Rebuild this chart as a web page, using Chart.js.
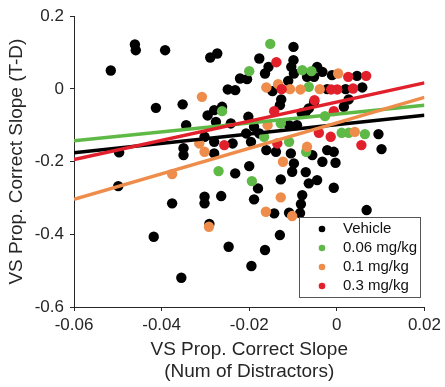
<!DOCTYPE html>
<html>
<head>
<meta charset="utf-8">
<script src="https://cdn.jsdelivr.net/npm/chart.js@4.4.1/dist/chart.umd.min.js"></script>
<style>
  body { margin: 0; background: #fff; }
  canvas { display: block; }
</style>
</head>
<body>
<canvas id="graph" width="445" height="387"></canvas>
<script>
// tick values
const xTicks = [-0.06, -0.04, -0.02, 0, 0.02];
const yTicks = [-0.6, -0.4, -0.2, 0, 0.2];

const groups = ['Vehicle', '0.06 mg/kg', '0.1 mg/kg', '0.3 mg/kg'];
const colors = ['#000000', '#5FB946', '#EE8D4B', '#E1202B'];

// [x, y] per animal
const vehicle = [
  [-0.0516, 0.0507], [-0.0461, 0.1222], [-0.0459, 0.1065], [-0.0392, 0.1065], [-0.0413, -0.0521], [-0.0352, -0.0425],
  [-0.0099, 0.1156], [-0.0273, 0.0975], [-0.0289, 0.0865], [-0.0177, 0.0837], [-0.0099, 0.079], [-0.0156, 0.0606],
  [-0.0104, 0.0606], [-0.0164, 0.0425], [-0.0098, 0.0425], [-0.0221, 0.0287], [-0.0205, 0.0268], [-0.0111, 0.0221],
  [-0.0068, 0.0331], [-0.0147, -0.0062], [-0.0249, -0.0015], [-0.0232, -0.0034], [-0.0127, -0.029], [-0.013, -0.0447],
  [-0.0262, -0.0493], [-0.028, -0.0584], [-0.0295, -0.073], [-0.0202, -0.0768],
  [-0.0045, 0.0606], [-0.0033, 0.0469], [-0.0052, 0.0331], [-0.0011, 0.0378], [0.0046, 0.0359], [-0.0022, -0.0007],
  [0.002, -0.0007], [0.0058, 0.004], [0.0027, -0.029], [0.0016, -0.0493], [-0.0064, -0.0537], [-0.0052, -0.0356],
  [-0.0344, -0.0997], [-0.0497, -0.1747], [-0.035, -0.163], [-0.035, -0.182], [-0.0499, -0.2674], [-0.0376, -0.3149],
  [-0.0276, -0.0906], [-0.0242, -0.095], [-0.0207, -0.1225], [-0.0177, -0.1225], [-0.0302, -0.1318], [-0.028, -0.1456],
  [-0.0238, -0.15], [-0.028, -0.1775], [-0.0196, -0.1456], [-0.0161, -0.1684], [-0.0139, -0.1731], [-0.0105, -0.1775],
  [-0.0098, -0.205], [-0.0232, -0.2324], [-0.02, -0.2124], [-0.0128, -0.2489], [-0.018, -0.2737], [-0.0102, -0.228],
  [-0.0071, -0.2289], [-0.0064, -0.2599], [-0.0302, -0.2968], [-0.0264, -0.2948], [-0.0302, -0.3149], [-0.0189, -0.3039],
  [-0.0082, -0.3168], [-0.0143, -0.3424],
  [-0.008, -0.0667], [0.0095, -0.1244], [0.0102, -0.1656], [-0.0056, -0.1821], [-0.0022, -0.1684], [-0.0007, -0.1731],
  [-0.0033, -0.2005], [-0.0003, -0.2033], [-0.0045, -0.2509], [-0.0007, -0.272], [-0.0079, -0.2921], [0.0068, -0.3333],
  [-0.0418, -0.4067], [-0.0355, -0.5195], [-0.0291, -0.3718], [-0.0247, -0.4342], [-0.0195, -0.4873], [-0.0164, -0.4433],
  [-0.013, -0.4021], [-0.0109, -0.3408], [-0.0084, -0.3416],
  [-0.0189, -0.1043], [-0.0109, -0.0997], [-0.0091, -0.0997], [-0.0071, -0.0631]
];
const dose006 = [
  [-0.0152, 0.1238], [-0.02, 0.0488], [-0.0079, 0.0515], [-0.0058, 0.0488], [-0.0064, 0.0056], [-0.0262, -0.0612],
  [-0.0027, -0.0749], [-0.0128, -0.095], [-0.0166, -0.1318], [-0.0109, -0.1456], [0.0011, -0.1208], [0.0027, -0.1208],
  [0.0064, -0.1244], [-0.007, -0.1731], [-0.027, -0.2261], [-0.0194, -0.2536]
];
const dose01 = [
  [-0.0161, 0.004], [-0.0134, 0.0131], [-0.0107, -0.0007], [-0.0083, -0.0015], [-0.0039, -0.0007], [0.0003, 0.0425],
  [-0.0308, -0.0219], [-0.0158, -0.0997], [-0.0314, -0.15], [-0.0302, -0.1731], [-0.0068, -0.1593], [0.0041, -0.1181],
  [-0.0123, -0.2005], [-0.0376, -0.2344], [-0.0128, -0.2984], [-0.0162, -0.338], [-0.0102, -0.3498], [-0.0292, -0.3793]
];
const dose03 = [
  [-0.0138, 0.0735], [-0.0126, -0.0007], [0.0026, 0.0331], [0.0067, 0.0359], [-0.0013, -0.0015], [0.0001, -0.0015],
  [0.0037, 0.0012], [-0.0051, -0.0309], [-0.0143, -0.0612], [-0.0007, -0.0612], [-0.0257, -0.1546], [-0.0136, -0.15],
  [-0.0041, -0.1208], [-0.0014, -0.1318], [0.0056, -0.1546]
];

// regression lines, y at x = -0.06 and x = 0.02
const fitX = [-0.06, 0.02];
const fitVehicle = [-0.1758, -0.0722];
const fit006 = [-0.1428, -0.0447];
const fit01 = [-0.3039, -0.0235];
const fit03 = [-0.194, 0.0166];

const toXY = arr => arr.map(p => ({ x: p[0], y: p[1] }));
const fitLine = ys => fitX.map((x, i) => ({ x: x, y: ys[i] }));

const axisCol = '#262626';
Chart.defaults.font.family = "'Liberation Sans', Arial, Helvetica, sans-serif";
Chart.defaults.color = axisCol;

const pointSets = [vehicle, dose006, dose01, dose03];
const fits = [fitVehicle, fit006, fit01, fit03];

const datasets = [];
pointSets.forEach((pts, i) => {
  datasets.push({
    type: 'scatter',
    label: groups[i],
    data: toXY(pts),
    backgroundColor: colors[i],
    borderWidth: 0,
    pointRadius: 5.2,
    order: 10 - i
  });
});
fits.forEach((f, i) => {
  datasets.push({
    type: 'line',
    label: groups[i] + ' fit',
    data: fitLine(f),
    borderColor: colors[i],
    borderWidth: 3.5,
    pointRadius: 0,
    fill: false,
    order: 4 - i
  });
});

// legend box inside the axes
const legendBox = {
  id: 'legendBox',
  afterDraw(chart) {
    const ctx = chart.ctx;
    ctx.save();
    ctx.fillStyle = '#fff';
    ctx.fillRect(299.5, 217.5, 121, 80);
    ctx.strokeStyle = '#555';
    ctx.lineWidth = 1;
    ctx.strokeRect(299.5, 217.5, 121, 80);
    ctx.font = "15px 'Liberation Sans', Arial, sans-serif";
    ctx.textBaseline = 'middle';
    groups.forEach((g, i) => {
      const y = 229 + i * 19;
      ctx.fillStyle = colors[i];
      ctx.beginPath();
      ctx.arc(322, y, 3.3, 0, Math.PI * 2);
      ctx.fill();
      ctx.fillStyle = '#111';
      ctx.fillText(g, 343, y);
    });
    ctx.restore();
  }
};

var ctx = document.getElementById('graph').getContext('2d');
var myChart = new Chart(ctx, {
  type: 'scatter',
  data: { datasets: datasets },
  options: {
    responsive: false,
    devicePixelRatio: 1,
    animation: false,
    layout: { padding: { left: 0, top: 16, right: 19, bottom: 0 } },
    plugins: {
      legend: { display: false },
      tooltip: { enabled: false }
    },
    scales: {
      x: {
        type: 'linear',
        min: -0.06,
        max: 0.02,
        afterBuildTicks: s => { s.ticks = xTicks.map(v => ({ value: v })); },
        afterFit: s => { s.height = 80; },
        ticks: { font: { size: 17 }, color: axisCol, padding: 4, callback: v => String(v) },
        grid: { drawOnChartArea: false, drawTicks: true, tickLength: 4, tickColor: axisCol },
        border: { display: true, color: axisCol, width: 1 },
        title: {
          display: true,
          text: ['VS Prop. Correct Slope', '(Num of Distractors)'],
          font: { size: 19, lineHeight: 1.15 },
          color: axisCol,
          padding: { top: 0, bottom: 4 }
        }
      },
      y: {
        type: 'linear',
        min: -0.6,
        max: 0.2,
        afterBuildTicks: s => { s.ticks = yTicks.map(v => ({ value: v })); },
        afterFit: s => { s.width = 74; },
        ticks: { font: { size: 17 }, color: axisCol, padding: 6, callback: v => String(v) },
        grid: { drawOnChartArea: false, drawTicks: true, tickLength: 4, tickColor: axisCol },
        border: { display: true, color: axisCol, width: 1 },
        title: {
          display: true,
          text: 'VS Prop. Correct Slope (T-D)',
          font: { size: 19 },
          color: axisCol,
          padding: { top: 5, bottom: 0 }
        }
      }
    }
  },
  plugins: [legendBox]
});
</script>
</body>
</html>
